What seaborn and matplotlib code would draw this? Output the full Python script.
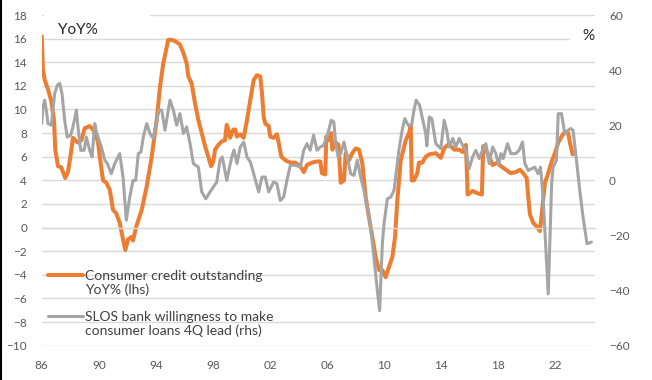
import numpy as np
import pandas as pd
import matplotlib
matplotlib.use("Agg")
import matplotlib.pyplot as plt
from matplotlib.patches import Rectangle
from matplotlib.lines import Line2D
from matplotlib.legend_handler import HandlerLine2D
import seaborn as sns

# ---------------- data ----------------
credit_year = [1986.00, 1986.08, 1986.21, 1986.44, 1986.67, 1986.86, 1986.95, 1987.14, 1987.37, 1987.65,
               1987.84, 1988.08, 1988.19, 1988.43, 1988.54, 1988.78, 1989.01, 1989.36, 1989.60, 1989.83,
               1989.95, 1990.07, 1990.30, 1990.53, 1990.77, 1991.00, 1991.23, 1991.47, 1991.70, 1991.86,
               1992.05, 1992.28, 1992.40, 1992.63, 1993.01, 1993.36, 1993.71, 1994.06, 1994.29, 1994.52,
               1994.76, 1994.87, 1995.11, 1995.34, 1995.69, 1995.93, 1996.16, 1996.28, 1996.51, 1996.75,
               1996.98, 1997.22, 1997.45, 1997.68, 1997.87, 1998.03, 1998.15, 1998.38, 1998.62, 1998.85,
               1998.97, 1999.08, 1999.20, 1999.43, 1999.57, 1999.69, 1999.92, 2000.16, 2000.39, 2000.62,
               2000.86, 2001.09, 2001.32, 2001.44, 2001.56, 2001.67, 2001.91, 2002.02, 2002.26, 2002.49,
               2002.61, 2002.80, 2003.08, 2003.43, 2003.78, 2004.13, 2004.37, 2004.60, 2004.95, 2005.30,
               2005.53, 2005.65, 2005.88, 2005.95, 2006.12, 2006.30, 2006.37, 2006.61, 2006.81, 2006.96,
               2007.19, 2007.31, 2007.54, 2007.77, 2008.01, 2008.24, 2008.47, 2008.71, 2008.94, 2009.18,
               2009.41, 2009.65, 2009.88, 2010.11, 2010.35, 2010.58, 2010.77, 2010.93, 2011.17, 2011.52,
               2011.75, 2011.87, 2011.94, 2012.10, 2012.33, 2012.45, 2012.68, 2012.92, 2013.17, 2013.63,
               2013.98, 2014.21, 2014.46, 2014.69, 2014.92, 2015.27, 2015.51, 2015.74, 2015.86, 2016.21,
               2016.56, 2016.86, 2016.95, 2017.14, 2017.37, 2017.61, 2017.96, 2018.19, 2018.54, 2018.89,
               2019.24, 2019.53, 2019.76, 2020.00, 2020.11, 2020.23, 2020.46, 2020.70, 2020.93, 2021.28,
               2021.51, 2021.75, 2021.98, 2022.21, 2022.44, 2022.67, 2022.91, 2023.03, 2023.22]
credit_yoy = [16.2, 13.4, 12.5, 11.7, 10.7, 9.1, 6.6, 5.2, 5.1, 4.2,
              4.7, 6.6, 7.6, 7.3, 7.2, 7.4, 8.4, 8.6, 8.3, 7.7,
              7.2, 6.0, 4.0, 3.8, 3.2, 1.5, 1.2, 0.4, -1.0, -1.9,
              -1.0, -0.8, -1.1, 0.1, 1.5, 3.5, 6.0, 9.1, 11.9, 13.9,
              15.3, 15.9, 15.9, 15.8, 15.5, 14.8, 13.9, 12.8, 12.2, 10.5,
              9.1, 8.0, 6.9, 6.0, 5.2, 5.6, 6.6, 7.0, 7.3, 7.4,
              8.7, 8.3, 7.6, 8.3, 8.3, 7.7, 7.9, 7.6, 9.1, 10.8,
              12.5, 12.9, 12.8, 11.4, 9.4, 8.8, 8.6, 7.7, 7.6, 7.9,
              7.2, 6.0, 5.7, 5.5, 5.5, 5.2, 4.7, 5.3, 5.5, 5.6,
              5.6, 4.6, 4.5, 7.7, 7.4, 8.0, 6.6, 7.2, 7.0, 3.8,
              4.0, 6.3, 5.7, 6.3, 6.7, 6.6, 5.5, 2.6, 0.9, -0.8,
              -2.5, -3.6, -3.6, -4.2, -3.3, -2.5, -0.8, 2.3, 5.7, 7.4,
              8.0, 8.6, 4.0, 4.0, 4.6, 5.5, 5.5, 6.0, 6.2, 6.3,
              5.9, 6.7, 7.0, 6.9, 6.6, 6.6, 6.4, 7.0, 2.8, 3.1,
              2.9, 2.8, 6.9, 6.6, 6.0, 5.3, 5.5, 5.2, 4.9, 4.6,
              4.7, 4.9, 4.6, 4.2, 2.6, 1.1, 0.4, 0.1, -0.3, 3.8,
              4.6, 5.6, 6.3, 7.2, 7.7, 8.1, 8.0, 7.2, 6.2]

slos_year = [1986.00, 1986.09, 1986.21, 1986.32, 1986.44, 1986.67, 1986.91, 1987.09, 1987.26, 1987.42,
             1987.61, 1987.79, 1988.03, 1988.19, 1988.43, 1988.54, 1988.73, 1988.97, 1989.13, 1989.36,
             1989.53, 1989.72, 1989.83, 1990.18, 1990.42, 1990.60, 1990.88, 1991.12, 1991.47, 1991.70,
             1991.93, 1992.17, 1992.40, 1992.59, 1992.77, 1992.96, 1993.12, 1993.36, 1993.59, 1993.82,
             1994.06, 1994.22, 1994.41, 1994.64, 1994.83, 1994.99, 1995.23, 1995.46, 1995.69, 1995.93,
             1996.16, 1996.40, 1996.63, 1996.98, 1997.22, 1997.50, 1997.80, 1998.27, 1998.50, 1998.66,
             1998.97, 1999.32, 1999.48, 1999.69, 1999.92, 2000.16, 2000.39, 2000.62, 2000.86, 2001.21,
             2001.44, 2001.67, 2001.91, 2002.26, 2002.49, 2002.72, 2002.96, 2003.19, 2003.43, 2003.78,
             2004.13, 2004.37, 2004.60, 2004.82, 2005.06, 2005.30, 2005.53, 2005.76, 2005.99, 2006.30,
             2006.48, 2006.61, 2006.78, 2006.96, 2007.19, 2007.42, 2007.66, 2007.89, 2008.12, 2008.36,
             2008.59, 2008.82, 2009.06, 2009.29, 2009.53, 2009.69, 2009.88, 2010.00, 2010.23, 2010.47,
             2010.70, 2011.04, 2011.27, 2011.46, 2011.69, 2011.93, 2012.10, 2012.25, 2012.49, 2012.72,
             2012.92, 2013.00, 2013.17, 2013.35, 2013.63, 2013.98, 2014.21, 2014.39, 2014.57, 2014.82,
             2015.03, 2015.27, 2015.51, 2015.74, 2015.96, 2016.21, 2016.43, 2016.67, 2016.90, 2017.14,
             2017.37, 2017.61, 2017.84, 2018.03, 2018.19, 2018.35, 2018.66, 2018.89, 2019.24, 2019.47,
             2019.71, 2019.87, 2020.11, 2020.34, 2020.57, 2020.80, 2020.97, 2021.15, 2021.51, 2021.75,
             2021.85, 2022.09, 2022.21, 2022.44, 2022.67, 2022.91, 2023.09, 2023.25, 2023.49, 2023.72,
             2023.95, 2024.23, 2024.54]
slos_pct = [20.6, 26.7, 29.1, 25.5, 20.6, 20.0, 31.5, 34.5, 35.2, 31.5,
            21.8, 15.7, 16.4, 19.4, 25.5, 19.4, 10.9, 10.9, 15.7, 10.9,
            8.5, 20.6, 17.6, 12.1, 7.3, 6.1, 2.4, 6.1, 9.7, 1.2,
            -14.5, -6.1, 0.0, 0.0, 9.7, 10.3, 15.7, 20.6, 17.0, 15.2,
            21.8, 25.5, 25.5, 18.2, 24.2, 29.1, 25.5, 20.0, 24.2, 17.0,
            19.4, 13.3, 6.1, 4.8, -4.2, -6.7, -4.2, -0.6, 7.3, 8.5,
            0.0, 8.5, 11.0, 6.1, 12.1, 13.9, 8.5, 6.7, 2.4, -4.2,
            1.2, 1.2, -4.2, -0.6, -1.2, -7.3, -6.1, 0.0, 5.5, 5.5,
            4.8, 10.9, 13.3, 10.9, 16.4, 10.9, 12.1, 12.7, 15.7, 21.8,
            21.2, 13.3, 8.5, 9.7, 13.9, 8.5, 2.4, 1.8, 7.3, 1.2,
            -3.6, -9.7, -17.0, -27.9, -40.0, -47.3, -23.0, -15.7, -6.7, -6.1,
            -3.6, 10.9, 18.2, 22.4, 20.0, 20.0, 25.5, 29.1, 27.3, 21.8,
            17.0, 12.5, 23.0, 22.4, 13.3, 11.5, 21.8, 18.2, 12.1, 15.2,
            12.1, 15.2, 12.7, 10.9, 4.2, 8.5, 10.9, 7.9, 10.9, 13.3,
            6.1, 12.1, 9.7, 5.5, 9.7, 7.9, 13.3, 9.7, 9.7, 10.9,
            13.9, 6.1, 3.6, 4.2, 4.8, 2.4, 4.8, -6.1, -41.2, -1.2,
            4.8, 7.3, 24.2, 24.2, 17.0, 18.2, 18.8, 18.2, 7.3, -3.6,
            -13.3, -23.0, -22.4]

tick_years = [1986, 1990, 1994, 1998, 2002, 2006, 2010, 2014, 2018, 2022]
tick_labels = ["86", "90", "94", "98", "02", "06", "10", "14", "18", "22"]
label_credit = "Consumer credit outstanding\nYoY% (lhs)"
label_slos = "SLOS bank willingness to make\nconsumer loans 4Q lead (rhs)"

# ---------------- style ----------------
sns.set_style("white")
plt.rcParams["font.family"] = ["Lato", "DejaVu Sans"]

ORANGE = "#ED7D31"
GRAY = "#A5A5A5"
GRID = "#D9D9D9"
TICKC = "#595959"

df_c = pd.DataFrame({"year": credit_year, "yoy": credit_yoy})
df_s = pd.DataFrame({"year": slos_year, "pct": slos_pct})

fig = plt.figure(figsize=(6.52, 3.80), dpi=100)
ax = fig.add_axes([0.064, 0.0903, 0.8486, 0.8702])
ax2 = ax.twinx()

sns.lineplot(data=df_c, x="year", y="yoy", ax=ax, color=ORANGE, lw=2.9,
             sort=False, estimator=None, label=label_credit, legend=False)
sns.lineplot(data=df_s, x="year", y="pct", ax=ax2, color=GRAY, lw=2.2,
             sort=False, estimator=None, label=label_slos, legend=False)

ax.set_xlim(1986, 2024.79)
ax.set_ylim(-10, 18)
ax2.set_ylim(-60, 60)
ax.set_yticks(np.arange(-10, 19, 2))
ax2.set_yticks(np.arange(-60, 61, 20))
ax.set_xlabel("")
ax.set_ylabel("")
ax2.set_ylabel("")

ax.yaxis.grid(True, color=GRID, lw=1.0)
ax.xaxis.grid(False)
ax.set_axisbelow(True)

for s in ["top", "left", "right"]:
    ax.spines[s].set_visible(False)
for s in ["top", "left", "right", "bottom"]:
    ax2.spines[s].set_visible(False)
ax.spines["bottom"].set_position(("data", 0))
ax.spines["bottom"].set_color(GRID)
ax.spines["bottom"].set_linewidth(1.0)

ax.set_xticks(tick_years)
ax.tick_params(axis="x", length=4, width=1, color=GRID, direction="out", labelbottom=False)
ax.tick_params(axis="y", length=0, pad=10.5, labelsize=8.5, labelcolor=TICKC)
ax2.tick_params(axis="y", length=0, pad=10, labelsize=8.5, labelcolor=TICKC)

sec = ax.secondary_xaxis(0)
sec.set_xticks(tick_years, tick_labels)
sec.tick_params(length=0, pad=10, labelsize=8.5, labelcolor=TICKC)
sec.spines["bottom"].set_visible(False)

# axis titles with white boxes (as in the original)
ax.add_patch(Rectangle((0.005, 0.97), 0.19, 0.05, transform=ax.transAxes,
                       facecolor="white", edgecolor="none", zorder=1.5, clip_on=False))
ax.text(0.029, 0.955, "YoY%", transform=ax.transAxes, fontsize=11, color="#262626",
        ha="left", va="center", zorder=3)
ax2.add_patch(Rectangle((0.955, 0.915), 0.05, 0.025, transform=ax2.transAxes,
                        facecolor="white", edgecolor="none", zorder=1.5, clip_on=False))
ax2.text(0.989, 0.937, "%", transform=ax2.transAxes, fontsize=11, color="#262626",
         ha="center", va="center", zorder=3)


class TopLineHandler(HandlerLine2D):
    """Legend handle aligned with the first line of a two-line label."""
    def create_artists(self, legend, orig_handle, xdescent, ydescent, width,
                       height, fontsize, trans):
        arts = super().create_artists(legend, orig_handle, xdescent, ydescent,
                                      width, height, fontsize, trans)
        for a in arts:
            a.set_ydata(np.asarray(a.get_ydata(), dtype=float) + 0.6 * fontsize)
        return arts


h1, l1 = ax.get_legend_handles_labels()
h2, l2 = ax2.get_legend_handles_labels()
handles = h1 + h2
leg = ax2.legend(handles, l1 + l2, loc="upper left", bbox_to_anchor=(0.011, 0.229),
                 frameon=False, fontsize=10, handlelength=2.5, handletextpad=0.15,
                 labelspacing=1.05, borderpad=0, borderaxespad=0,
                 handler_map={h: TopLineHandler() for h in handles})
for t in leg.get_texts():
    t.set_color("#404040")
    t.set_linespacing(1.15)

fig.add_artist(Line2D([0.0015, 0.0015], [0, 1], color="black", lw=1.5, transform=fig.transFigure))

fig.savefig("out.png", dpi=100)
